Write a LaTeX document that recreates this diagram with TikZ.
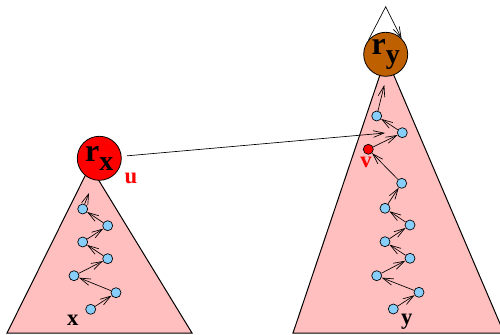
\documentclass[tikz,border=0pt]{standalone}
\usepackage{fontspec}
\setmainfont{Liberation Serif}
\usetikzlibrary{arrows.meta}
\definecolor{pinkfill}{RGB}{255,191,191}
\definecolor{ltblue}{RGB}{135,206,250}
\definecolor{rootbrown}{RGB}{191,96,0}
\tikzset{every picture/.style={line width=0.75pt}}
\tikzset{
  elem/.style={circle,draw,fill=ltblue,minimum size=7.5pt,inner sep=0pt,line width=0.5pt},
  rootnode/.style={circle,draw,minimum size=33pt,inner sep=0pt,line width=0.6pt,font=\bfseries},
  ptr/.style={-{Straight Barb[length=8pt,width=5pt]},line width=0.5pt},
  lbl/.style={inner sep=0.75pt,font=\bfseries\fontsize{17}{17}\selectfont},
  subtree/.style={draw,fill=pinkfill,line width=0.75pt},
}

\begin{document}
\begin{tikzpicture}[x=0.75pt,y=0.75pt,yscale=-1,xscale=1]
	\useasboundingbox (0,0) rectangle (500,335);
	\clip (0,0) rectangle (500,335);

	%Triangles
	\draw [subtree] (90,166) -- (7,333) -- (192,333) -- cycle ;
	\draw [subtree] (386,57) -- (293,333) -- (504,333) -- cycle ;

	%Roots
	\node [rootnode,fill=red] (rx) at (99.3,158.3) {\fontsize{24}{24}\selectfont r\raisebox{-0.3em}{\fontsize{21}{21}\selectfont x}};
	\node [rootnode,fill=rootbrown] (ry) at (385.7,54.3) {\fontsize{24}{24}\selectfont r\raisebox{-0.3em}{\fontsize{21}{21}\selectfont y}};

	%Path in left tree
	\node [elem] (a1) at (90.7,309.3) {};
	\node [elem] (a2) at (116,292.7) {};
	\node [elem] (a3) at (74,275.7) {};
	\node [elem] (a4) at (107.7,258.7) {};
	\node [elem] (a5) at (82.7,242) {};
	\node [elem] (a6) at (107.7,225.7) {};
	\node [elem] (a7) at (82.7,209) {};
	\coordinate (tipx) at (89,193);

	%Path in right tree
	\node [elem] (b1) at (393.3,309) {};
	\node [elem] (b2) at (419,292.3) {};
	\node [elem] (b3) at (376.7,275.7) {};
	\node [elem] (b4) at (410,258.3) {};
	\node [elem] (b5) at (385,241.7) {};
	\node [elem] (b6) at (410,225) {};
	\node [elem] (b7) at (385,208.3) {};
	\node [elem] (b8) at (401.7,183.3) {};
	\node [elem,fill=red] (v) at (368.3,149.3) {};
	\node [elem] (b9) at (402.3,132.7) {};
	\node [elem] (b10) at (376.7,116) {};
	\coordinate (tipy) at (384.3,85);
	\coordinate (loop) at (385.7,6.7);
	\coordinate (link) at (385,133);

	%Arrows
	\foreach \s/\t in {a1/a2,a2/a3,a3/a4,a4/a5,a5/a6,a6/a7,b1/b2,b2/b3,b3/b4,b4/b5,b5/b6,b6/b7,b7/b8,b8/v,v/b9,b9/b10}
		\draw [ptr] (\s) -- (\t) ;
	\draw [ptr] (a7) -- (tipx) ;
	\draw [ptr] (b10) -- (tipy) ;
	\draw [ptr] (ry.140) -- (loop) -- (ry.45) ;
	\draw [ptr,shorten <=4] (rx) -- (link) ;

	% Text Node
	\node [lbl,text=red] (u) at (131,178) {u};
	% Text Node
	\node [lbl,text=red] (vlab) at (366,162) {v};
	% Text Node
	\node [lbl] (x) at (72.7,320) {x};
	% Text Node
	\node [lbl] (y) at (406.7,321.7) {y};
\end{tikzpicture}
\end{document}
